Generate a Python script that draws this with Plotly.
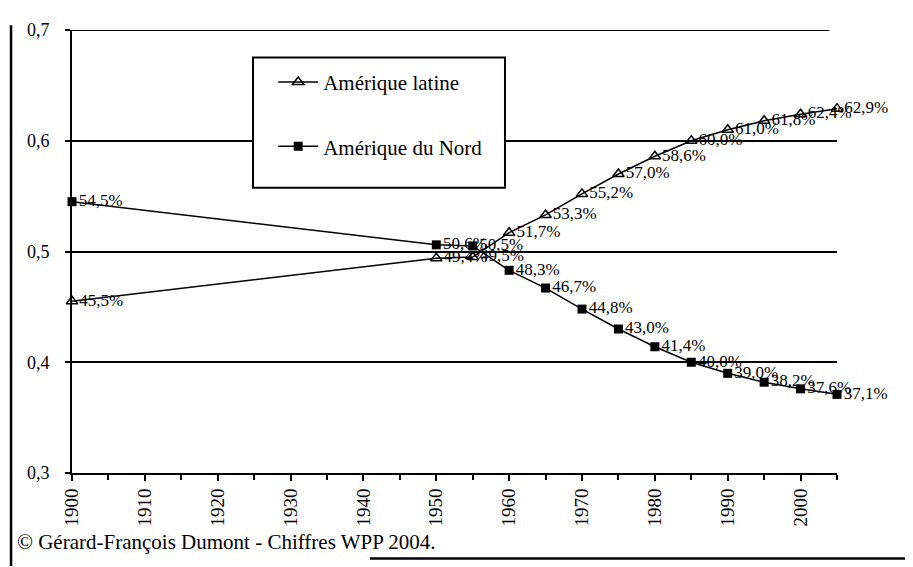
import plotly.graph_objects as go

years = [1900, 1950, 1955, 1960, 1965, 1970, 1975, 1980, 1985, 1990, 1995, 2000, 2005]
amerique_latine = [0.455, 0.494, 0.495, 0.517, 0.533, 0.552, 0.570, 0.586, 0.600, 0.610, 0.618, 0.624, 0.629]
amerique_nord = [0.545, 0.506, 0.505, 0.483, 0.467, 0.448, 0.430, 0.414, 0.400, 0.390, 0.382, 0.376, 0.371]
series_names = ["Amérique latine", "Amérique du Nord"]
y_ticks = [0.3, 0.4, 0.5, 0.6, 0.7]
copyright_text = "© Gérard-François Dumont - Chiffres WPP 2004."

FONT = "Liberation Serif, Times New Roman, serif"


def labels(vals):
    return [f"{v*100:.1f}%".replace(".", ",") for v in vals]


fig = go.Figure()
fig.add_trace(go.Scatter(
    x=years, y=amerique_latine, name=series_names[0], mode="lines+markers+text",
    line=dict(color="black", width=1.5),
    marker=dict(symbol="triangle-up-open", size=10, color="black", line=dict(width=1.5, color="black")),
    text=labels(amerique_latine), textposition="middle right",
    textfont=dict(family=FONT, size=17, color="black"),
    cliponaxis=False, legendgroup="a",
))
fig.add_trace(go.Scatter(
    x=years, y=amerique_nord, name=series_names[1], mode="lines+markers+text",
    line=dict(color="black", width=1.5),
    marker=dict(symbol="square", size=9, color="black"),
    text=labels(amerique_nord), textposition="middle right",
    textfont=dict(family=FONT, size=17, color="black"),
    cliponaxis=False, legendgroup="b",
))

fig.update_layout(
    width=913, height=567,
    margin=dict(l=64, r=84, t=15, b=102),
    paper_bgcolor="white", plot_bgcolor="white",
    separators=", ",
    font=dict(family=FONT, size=16, color="black"),
    showlegend=True,
    legend=dict(
        x=0.263, y=0.928, xanchor="left", yanchor="top",
        bgcolor="rgba(0,0,0,0)", borderwidth=0,
        font=dict(family=FONT, size=21, color="black"),
        tracegroupgap=34, traceorder="grouped", itemwidth=40,
    ),
    xaxis=dict(
        range=[1900, 2005], tick0=1900, dtick=10,
        showline=True, linecolor="black", linewidth=2,
        ticks="outside", ticklen=6, tickwidth=2, tickcolor="black",
        tickangle=-90, tickfont=dict(family=FONT, size=19, color="black"),
        minor=dict(dtick=5, ticks="outside", ticklen=5, tickwidth=2, tickcolor="black"),
        showgrid=False, zeroline=False,
    ),
    yaxis=dict(
        range=[0.3, 0.7], tickvals=y_ticks, tickformat=".1f",
        showline=True, linecolor="black", linewidth=2,
        ticks="outside", ticklen=5, tickwidth=2, tickcolor="black",
        ticklabelstandoff=12,
        tickfont=dict(family=FONT, size=18, color="black"),
        showgrid=True, gridcolor="black", gridwidth=1.8, zeroline=False,
    ),
)

# top border line of the plot area (0.7)
fig.add_shape(type="line", xref="paper", yref="y", x0=0, x1=0.99, y0=0.7, y1=0.7,
              line=dict(color="black", width=2))
# legend frame (covers the gridline behind it)
fig.add_shape(type="rect", xref="paper", yref="paper", x0=0.2366, x1=0.566, y0=0.644, y1=0.938,
              line=dict(color="black", width=2), fillcolor="white", layer="above")
# page frame lines from the scanned source
fig.add_shape(type="line", xref="paper", yref="paper", x0=-0.0797, x1=-0.0797, y0=1.011, y1=-0.21,
              line=dict(color="black", width=2.5))
fig.add_shape(type="line", xref="paper", yref="paper", x0=0.3895, x1=1.1, y0=-0.193, y1=-0.193,
              line=dict(color="black", width=2.5))

fig.add_annotation(text=copyright_text, xref="paper", yref="paper", x=-0.0745, y=-0.1556,
                   xanchor="left", yanchor="middle", showarrow=False,
                   font=dict(family=FONT, size=21, color="black"))

fig.write_html("out.html")
